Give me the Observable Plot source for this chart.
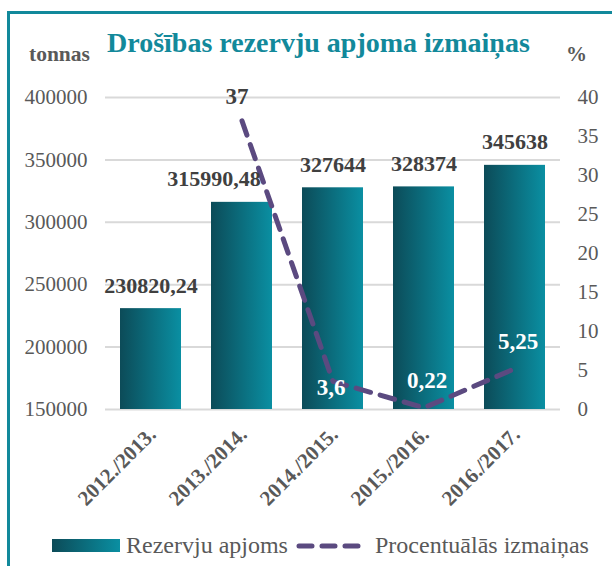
<!DOCTYPE html>
<html>
<head>
<meta charset="utf-8">
<script src="https://cdn.jsdelivr.net/npm/d3@7"></script>
<script src="https://cdn.jsdelivr.net/npm/@observablehq/plot@0.6"></script>
<style>
  html, body { margin: 0; padding: 0; background: #fff; }
  #wrap { position: relative; width: 612px; height: 566px; overflow: hidden; font-family: "Liberation Serif", "Times New Roman", serif; }
  #wrap svg { position: absolute; left: 0; top: 0; }
  #wrap svg, #wrap svg text { font-family: "Liberation Serif", "Times New Roman", serif !important; }
</style>
</head>
<body>
<div id="wrap"></div>
<script>
// ---- data ----
const categories = ["2012./2013.", "2013./2014.", "2014./2015.", "2015./2016.", "2016./2017."];
const reserves = [230820.24, 315990.48, 327644, 328374, 345638];
const reserveLabels = ["230820,24", "315990,48", "327644", "328374", "345638"];
const changeCategories = ["2013./2014.", "2014./2015.", "2015./2016.", "2016./2017."];
const changes = [37, 3.6, 0.22, 5.25];
const changeLabels = ["37", "3,6", "0,22", "5,25"];
const leftTicks = [150000, 200000, 250000, 300000, 350000, 400000];
const rightTicks = [0, 5, 10, 15, 20, 25, 30, 35, 40];
const titleText = "Drošības rezervju apjoma izmaiņas";
const leftUnit = "tonnas";
const rightUnit = "%";
const legendBars = "Rezervju apjoms";
const legendLine = "Procentuālās izmaiņas";

// ---- styling ----
const teal = "#12899b";
const purple = "#5b4a80";
const grayText = "#595959";
const darkText = "#404040";
const serif = "'Liberation Serif', 'Times New Roman', serif";

// percent axis mapped onto the tonnage scale (dual axis)
const yMin = 150000, yMax = 400000, pMax = 40;
const pctToY = p => yMin + p * (yMax - yMin) / pMax;

const barData = categories.map((c, i) => ({cat: c, value: reserves[i], label: reserveLabels[i]}));
const lineData = changeCategories.map((c, i) => ({cat: c, pct: changes[i], y: pctToY(changes[i]), label: changeLabels[i]}));

const W = 612, H = 566;
const plot = Plot.plot({
  width: W, height: H,
  marginTop: 97, marginBottom: 157, marginLeft: 105, marginRight: 52,
  style: {fontFamily: serif, background: "transparent", color: grayText, overflow: "visible"},
  x: {domain: categories, paddingInner: 0.33, paddingOuter: 0.165, label: null, axis: null},
  y: {domain: [yMin, yMax], label: null},
  marks: [
    Plot.gridY(leftTicks, {stroke: "#d9d9d9", strokeOpacity: 1, strokeWidth: 2}),
    Plot.axisY(leftTicks, {anchor: "left", tickSize: 0, tickPadding: 18, fontSize: 21, fill: grayText, label: null,
      tickFormat: d => String(d)}),
    Plot.axisY(rightTicks.map(pctToY), {anchor: "right", tickSize: 0, tickPadding: 17, fontSize: 21, fill: grayText, label: null,
      tickFormat: d => String(Math.round((d - yMin) * pMax / (yMax - yMin)))}),
    Plot.barY(barData, {x: "cat", y1: () => yMin, y2: "value", fill: "url(#barGrad)"}),
    Plot.line(lineData, {x: "cat", y: "y", stroke: purple, strokeWidth: 5, strokeDasharray: "15,10", strokeLinecap: "round", strokeLinejoin: "round"}),
    Plot.text(barData.filter((d, i) => i !== 1), {x: "cat", y: "value", text: "label", dy: -23, fontSize: 22, fontWeight: "bold", fill: darkText}),
    Plot.text(barData.filter((d, i) => i === 1), {x: "cat", y: "value", text: "label", dy: -23, dx: -28, fontSize: 22, fontWeight: "bold", fill: darkText}),
    Plot.text(lineData.filter((d, i) => i === 0), {x: "cat", y: "y", text: "label", dy: -24, dx: -5, fontSize: 23, fontWeight: "bold", fill: darkText}),
    Plot.text(lineData.filter((d, i) => i === 1), {x: "cat", y: "y", text: "label", dy: 6, dx: -2, fontSize: 23, fontWeight: "bold", fill: "#ffffff"}),
    Plot.text(lineData.filter((d, i) => i > 1), {x: "cat", y: "y", text: "label", dy: -27, dx: 3, fontSize: 23, fontWeight: "bold", fill: "#ffffff"})
  ]
});

const svg = d3.select(plot);
svg.selectAll("text").attr("font-family", serif);
const defs = svg.insert("defs", ":first-child");
const grad = defs.append("linearGradient").attr("id", "barGrad").attr("x1", 0).attr("x2", 1).attr("y1", 0).attr("y2", 0);
grad.append("stop").attr("offset", "0%").attr("stop-color", "#0c4b58");
grad.append("stop").attr("offset", "100%").attr("stop-color", "#0a8fa2");

// rotated category labels placed with the plot's own x scale
const xs = plot.scale("x");
const frameBottom = H - 157;
const catG = svg.append("g").attr("aria-label", "x-axis tick label");
categories.forEach(c => {
  const cx = xs.apply(c) + xs.bandwidth / 2 + 2;
  const cy = frameBottom + 22;
  catG.append("text")
    .attr("transform", `translate(${cx},${cy}) rotate(-45)`)
    .attr("text-anchor", "end")
    .attr("dy", "0.32em")
    .attr("font-family", serif)
    .attr("font-size", 21)
    .attr("font-weight", "bold")
    .attr("fill", grayText)
    .text(c);
});

const wrap = document.getElementById("wrap");

// frame border (background layer)
const bg = d3.create("svg").attr("width", W).attr("height", H);
bg.append("rect").attr("x", 8.5).attr("y", 12.5).attr("width", W + 20).attr("height", H + 20)
  .attr("fill", "none").attr("stroke", teal).attr("stroke-width", 3);
wrap.appendChild(bg.node());
wrap.appendChild(plot);

// overlay: title, unit labels, legend
const ov = d3.create("svg").attr("width", W).attr("height", H).attr("font-family", serif);
ov.append("text").attr("x", 107).attr("y", 52).attr("font-family", serif).attr("font-size", 28).attr("font-weight", "bold").attr("fill", teal).text(titleText);
ov.append("text").attr("x", 29).attr("y", 61).attr("font-family", serif).attr("font-size", 21.5).attr("font-weight", "bold").attr("fill", grayText).text(leftUnit);
ov.append("text").attr("x", 566).attr("y", 61).attr("font-family", serif).attr("font-size", 21).attr("font-weight", "bold").attr("fill", grayText).text(rightUnit);

const ovDefs = ov.append("defs");
const g2 = ovDefs.append("linearGradient").attr("id", "legGrad").attr("x1", 0).attr("x2", 1).attr("y1", 0).attr("y2", 0);
g2.append("stop").attr("offset", "0%").attr("stop-color", "#0c4b58");
g2.append("stop").attr("offset", "100%").attr("stop-color", "#0a8fa2");
ov.append("rect").attr("x", 52).attr("y", 539).attr("width", 68).attr("height", 13).attr("fill", "url(#legGrad)");
ov.append("text").attr("x", 126).attr("y", 553).attr("font-family", serif).attr("font-size", 24).attr("fill", grayText).text(legendBars);
ov.append("line").attr("x1", 299).attr("x2", 360).attr("y1", 546).attr("y2", 546)
  .attr("stroke", purple).attr("stroke-width", 5).attr("stroke-linecap", "round").attr("stroke-dasharray", "13,10");
ov.append("text").attr("x", 375).attr("y", 553).attr("font-family", serif).attr("font-size", 24).attr("fill", grayText).text(legendLine);
wrap.appendChild(ov.node());
</script>
</body>
</html>
